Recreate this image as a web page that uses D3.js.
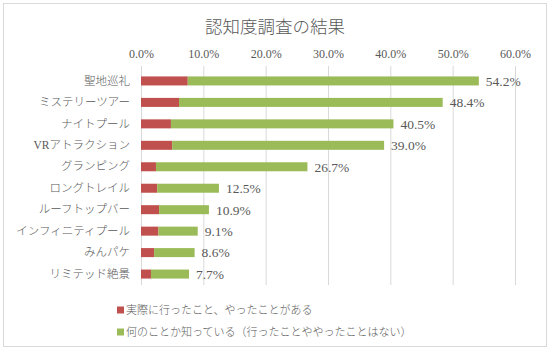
<!DOCTYPE html>
<html><head><meta charset="utf-8">
<script src="https://cdn.jsdelivr.net/npm/d3@7"></script>
<style>body{margin:0;background:#fff}</style>
</head><body>
<script>
const categories = ["聖地巡礼","ミステリーツアー","ナイトプール","VRアトラクション","グランピング","ロングトレイル","ルーフトップバー","インフィニティプール","みんパケ","リミテッド絶景"];
const experienced = [7.5,6.1,4.8,5.0,2.4,2.6,2.9,2.8,2.1,1.6];
const totals = [54.2,48.4,40.5,39.0,26.7,12.5,10.9,9.1,8.6,7.7];
const known = totals.map((t,i)=>+(t-experienced[i]).toFixed(1));
const seriesNames = ["実際に行ったこと、やったことがある","何のことか知っている（行ったことややったことはない）"];
const tickValues = [0,10,20,30,40,50,60];
const title = "認知度調査の結果";

const W=550,H=351;
const font = "'Liberation Serif','Noto Sans CJK JP',serif";
const txt = "#595959";
const colors = ["#c0504d","#9bbb59"];
const svg = d3.select("body").append("svg").attr("width",W).attr("height",H);
svg.append("rect").attr("x",3.5).attr("y",3.5).attr("width",543).attr("height",343)
  .attr("fill","#fff").attr("stroke","#d9d9d9");

svg.append("text").attr("x",275).attr("y",33).attr("text-anchor","middle")
  .attr("font-family",font).attr("font-weight",300).attr("font-size",17.5).attr("fill",txt).text(title);

const x = d3.scaleLinear().domain([0,60]).range([141,515]);
const y = d3.scaleBand().domain(categories).range([70,285]).paddingInner(0.58).paddingOuter(0.3);

// gridlines
svg.append("g").selectAll("line").data(tickValues).join("line")
  .attr("x1",d=>x(d)+0.5).attr("x2",d=>x(d)+0.5).attr("y1",66).attr("y2",285)
  .attr("stroke","#d9d9d9").attr("stroke-width",1);

const axis = d3.axisTop(x).tickValues(tickValues).tickFormat(d=>d.toFixed(1)+"%").tickSize(0).tickPadding(0);
const ga = svg.append("g").attr("transform","translate(0,58)").call(axis);
ga.select(".domain").remove();
ga.selectAll("text").attr("font-family",font).attr("font-size",12).attr("fill",txt);

const yAxis = d3.axisLeft(y).tickSize(0).tickPadding(0);
const gy = svg.append("g").attr("transform","translate(130,0)").call(yAxis);
gy.select(".domain").remove();
gy.selectAll("text").attr("font-family",font).attr("font-weight",300).attr("font-size",11.5).attr("fill",txt);

const stack = d3.stack().keys([0,1])(categories.map((c,i)=>({cat:c,0:experienced[i],1:known[i]})));
stack.forEach((s,k)=>{
  svg.append("g").attr("fill",colors[k]).selectAll("rect").data(s).join("rect")
    .attr("x",d=>x(d[0])).attr("width",d=>x(d[1])-x(d[0]))
    .attr("y",d=>y(d.data.cat)).attr("height",y.bandwidth());
});

svg.append("g").selectAll("text").data(categories).join("text")
  .attr("x",(c,i)=>x(totals[i])+7).attr("y",c=>y(c)+y.bandwidth()/2)
  .attr("dy","0.36em").attr("font-family",font).attr("font-size",13.5).attr("fill",txt)
  .text((c,i)=>totals[i].toFixed(1)+"%");

const lg = svg.append("g");
seriesNames.forEach((n,i)=>{
  const yy = 310+i*22;
  lg.append("rect").attr("x",117).attr("y",yy-3.5).attr("width",7).attr("height",7).attr("fill",colors[i]);
  lg.append("text").attr("x",126).attr("y",yy).attr("dy","0.36em")
    .attr("font-family",font).attr("font-weight",300).attr("font-size",11).attr("fill",txt).text(n);
});
</script>
</body></html>
